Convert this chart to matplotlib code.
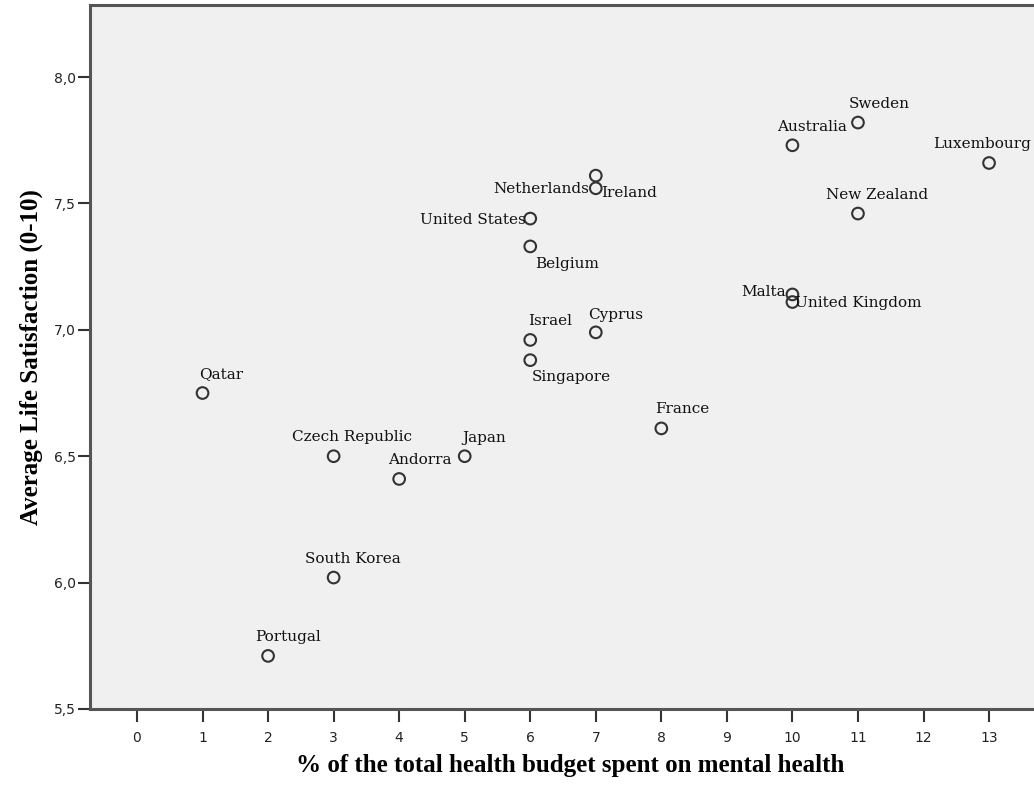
import matplotlib
matplotlib.use("Agg")
import matplotlib.pyplot as plt

# ── Data ──────────────────────────────────────
countries = ["Qatar", "Czech Republic", "Andorra", "Japan", "South Korea", "Portugal",
             "Singapore", "Israel", "Cyprus", "France", "Belgium", "United States",
             "Netherlands", "Ireland", "Sweden", "Australia", "Luxembourg",
             "New Zealand", "Malta", "United Kingdom"]
budget_pct = [1, 3, 4, 5, 3, 2, 6, 6, 7, 8, 6, 6, 7, 7, 11, 10, 13, 11, 10, 10]
life_sat = [6.75, 6.50, 6.41, 6.50, 6.02, 5.71, 6.88, 6.96, 6.99, 6.61, 7.33, 7.44,
            7.61, 7.56, 7.82, 7.73, 7.66, 7.46, 7.14, 7.11]

x_ticks = list(range(0, 14))
y_ticks = [5.5, 6.0, 6.5, 7.0, 7.5, 8.0]
y_tick_labels = ["5,5", "6,0", "6,5", "7,0", "7,5", "8,0"]

# label placement (offset in pixels from point, horizontal alignment)
label_pos = {
    "Qatar": (-3, 19, "left"), "Czech Republic": (18, 19, "center"),
    "Andorra": (21, 19, "center"), "Japan": (-2, 18, "left"),
    "South Korea": (19, 19, "center"), "Portugal": (20, 19, "center"),
    "Singapore": (2, -17, "left"), "Israel": (-2, 19, "left"),
    "Cyprus": (-8, 17, "left"), "France": (-6, 19, "left"),
    "Belgium": (5, -18, "left"), "United States": (-4, -1, "right"),
    "Netherlands": (-7, -13, "right"), "Ireland": (5, -5, "left"),
    "Sweden": (-9, 19, "left"), "Australia": (20, 18, "center"),
    "Luxembourg": (-56, 19, "left"), "New Zealand": (19, 19, "center"),
    "Malta": (-7, 2, "right"), "United Kingdom": (3, -1, "left"),
}

# ── Plot ──────────────────────────────────────
fig = plt.figure(figsize=(10.34, 7.85), dpi=100)
ax = fig.add_axes([90 / 1034, 76 / 785, 960 / 1034, 704 / 785])
ax.set_facecolor("#f0f0f0")

ax.scatter(budget_pct, life_sat, s=70, facecolors="none", edgecolors="#333333",
           linewidths=1.5, zorder=3)

for name, xv, yv in zip(countries, budget_pct, life_sat):
    dx, dy, ha = label_pos[name]
    ax.annotate(name, xy=(xv, yv), xytext=(dx, dy), textcoords="offset pixels",
                ha=ha, va="center", fontsize=11, family="DejaVu Serif",
                color="#111111", annotation_clip=False)

ax.set_xlim(-0.717, 13.93)
ax.set_ylim(5.5, 8.285)
ax.set_xticks(x_ticks)
ax.set_yticks(y_ticks)
ax.set_yticklabels(y_tick_labels)

for lbl in ax.get_xticklabels() + ax.get_yticklabels():
    lbl.set_family("DejaVu Sans")
    lbl.set_fontsize(10)
    lbl.set_color("#222222")

ax.tick_params(axis="both", length=9, width=1.5, color="#333333")
ax.tick_params(axis="x", pad=7)
ax.tick_params(axis="y", pad=1)

for side in ["left", "bottom", "top", "right"]:
    ax.spines[side].set_color("#555555")
    ax.spines[side].set_linewidth(2.2)

ax.set_xlabel("% of the total health budget spent on mental health",
              family="Liberation Serif", fontweight="bold", fontsize=18, labelpad=6)
ax.set_ylabel("Average Life Satisfaction (0-10)",
              family="Liberation Serif", fontweight="bold", fontsize=18, labelpad=8)

fig.savefig("out.png", dpi=100, facecolor="white")
